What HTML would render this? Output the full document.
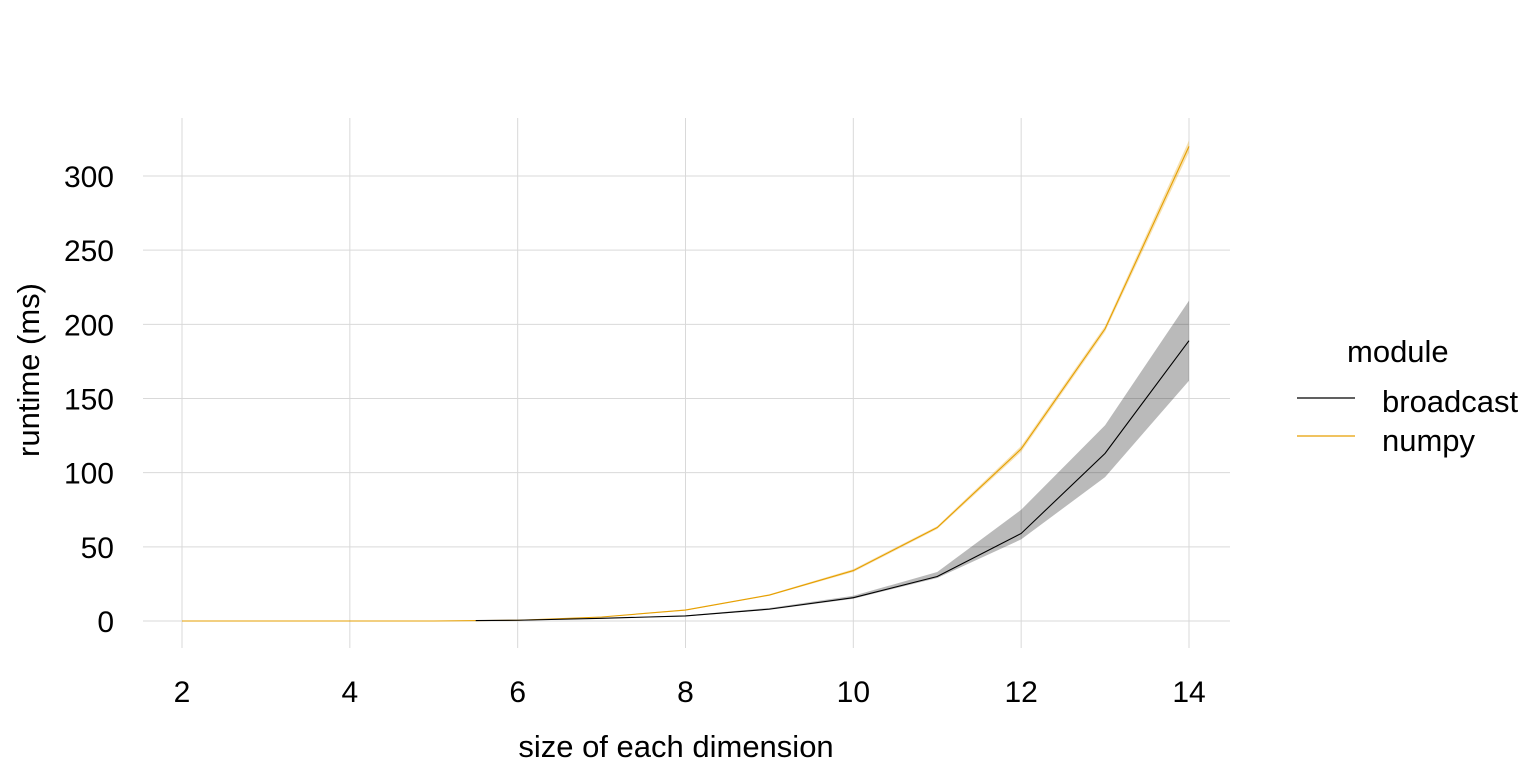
<!DOCTYPE html>
<html><head><meta charset="utf-8"><style>
body{margin:0;background:#fff}
text{font-family:"Liberation Sans",sans-serif;fill:#000}
</style></head><body>
<svg id="chart" width="1536" height="768" xmlns="http://www.w3.org/2000/svg">
<g id="grid"></g>
<g id="bands"></g>
<g id="lines"></g>
<g id="axes"></g>
<text x="676" y="757" font-size="31" text-anchor="middle">size of each dimension</text>
<text transform="translate(39,370) rotate(-90)" font-size="31" text-anchor="middle">runtime (ms)</text>
<g>
<text x="1347" y="362" font-size="31">module</text>
<line x1="1297" x2="1355" y1="398" y2="398" stroke="#000" stroke-width="1.2"/>
<text x="1382" y="412" font-size="31">broadcast</text>
<line x1="1297" x2="1355" y1="436" y2="436" stroke="#E69F00" stroke-width="1.2"/>
<text x="1382" y="451" font-size="31">numpy</text>
</g>
</svg>
<script>
const xTicks=[2,4,6,8,10,12,14];
const yTicks=[0,50,100,150,200,250,300];
const numpyX=[2,3,4,5,6,7,8,9,10,11,12,13,14];
const numpyY=[0,0,0,0,0.5,2.7,7.4,17.5,34,63,116,197,320];
const numpyLo=[0,0,0,0,0.4,2.5,7,17,33,62,114,195,316];
const numpyHi=[0,0,0,0,0.6,2.9,7.8,18,35,64,118,199,324];
const bcX=[5.5,6,7,8,9,10,11,12,13,14];
const bcY=[0.3,0.5,1.8,3.4,8,15.7,30,59,113,189];
const bcLo=[0.2,0.4,1.6,3.1,7.5,15,29,55,97,162];
const bcHi=[0.4,0.6,2.0,3.8,8.8,17,33,75,132,216];
const sx=v=>182+(v-2)*(1189-182)/12;
const sy=v=>621-v*(621-176)/300;
const NS="http://www.w3.org/2000/svg";
function mk(p,t,a){const e=document.createElementNS(NS,t);for(const k in a)e.setAttribute(k,a[k]);p.appendChild(e);return e;}
const grid=document.getElementById('grid'),axes=document.getElementById('axes');
xTicks.forEach(t=>{const l=mk(grid,'line',{x1:sx(t),x2:sx(t),y1:118,y2:648,stroke:'#d9d9d9','stroke-width':1});


const tx=mk(axes,'text',{x:sx(t),y:702,'font-size':30,'text-anchor':'middle'});tx.textContent=t;

});
yTicks.forEach(t=>{const l=mk(grid,'line',{x1:143,x2:1230,y1:sy(t),y2:sy(t),stroke:'#d9d9d9','stroke-width':1});


const tx=mk(axes,'text',{x:114,y:sy(t)+11,'font-size':30,'text-anchor':'end'});tx.textContent=t;

});
function band(xs,lo,hi,fill,name){let d='M'+xs.map((x,i)=>sx(x)+','+sy(hi[i])).join('L');
for(let i=xs.length-1;i>=0;i--)d+='L'+sx(xs[i])+','+sy(lo[i]);
const p=mk(document.getElementById('bands'),'path',{d:d+'Z',fill:fill});

}
function line(xs,ys,c,name){const p=mk(document.getElementById('lines'),'polyline',{points:xs.map((x,i)=>sx(x)+','+sy(ys[i])).join(' '),fill:'none',stroke:c,'stroke-width':1.1});

}
band(numpyX,numpyLo,numpyHi,'rgba(230,159,0,0.3)','numpy-ribbon');
band(bcX,bcLo,bcHi,'rgba(0,0,0,0.27)','broadcast-ribbon');
line(numpyX,numpyY,'#E69F00','numpy-line');
line(bcX,bcY,'#000','broadcast-line');
</script>
</body></html>
